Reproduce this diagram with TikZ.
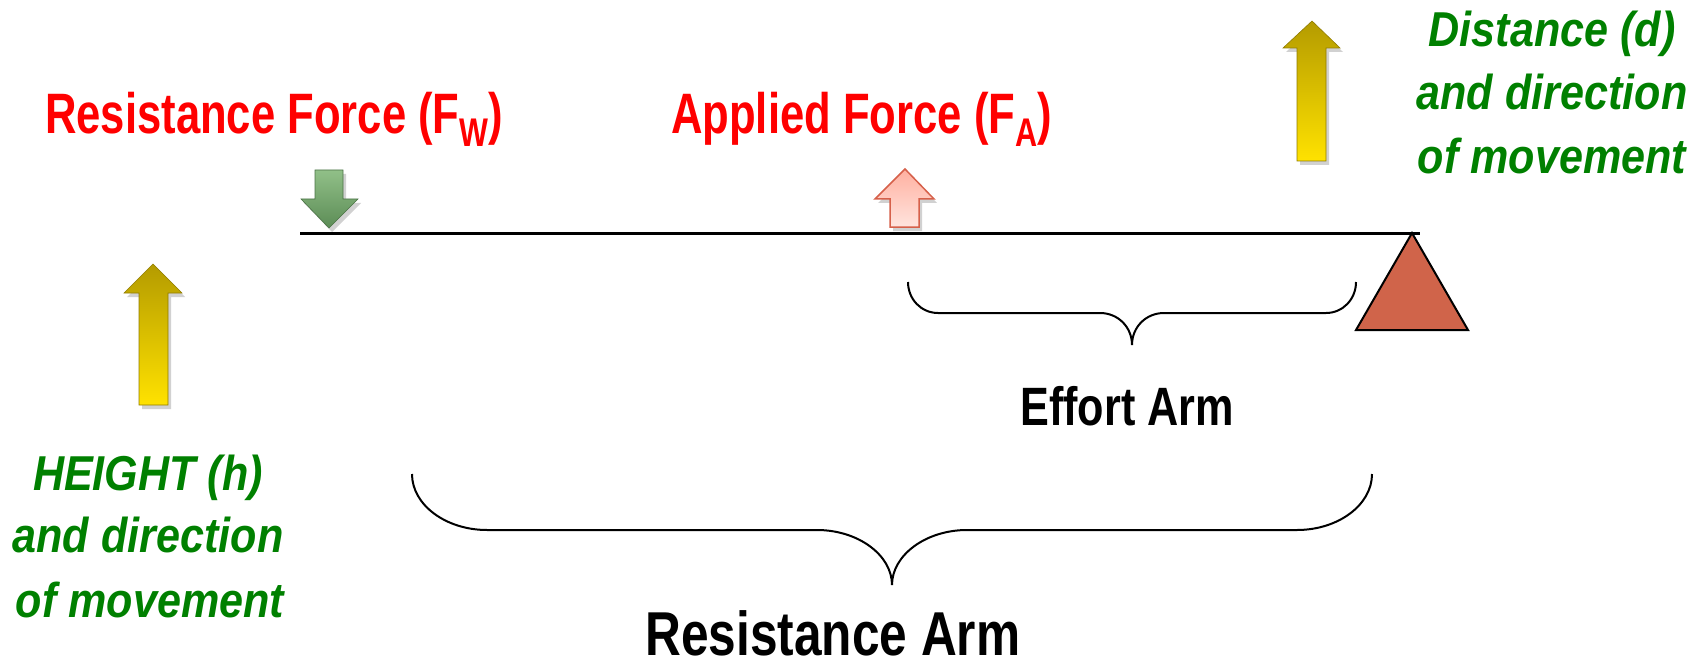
\documentclass[tikz,border=0pt]{standalone}
\usepackage{fontspec}
\setmainfont{Liberation Sans}
\newfontfamily\redfont[FakeStretch=0.765]{Liberation Sans}
\newfontfamily\blkfont[FakeStretch=0.8]{Liberation Sans}
\newfontfamily\grnfont[FakeStretch=0.88]{Liberation Sans}
\definecolor{forcered}{RGB}{255,0,0}
\definecolor{movegreen}{RGB}{0,128,0}
\definecolor{fulcrum}{RGB}{208,100,74}
\definecolor{yeltop}{RGB}{180,155,0}
\definecolor{yelbot}{RGB}{255,226,0}
\definecolor{grntop}{RGB}{145,192,136}
\definecolor{grnbot}{RGB}{92,140,86}
\definecolor{grnedge}{RGB}{75,115,70}
\definecolor{pinktop}{RGB}{255,176,160}
\definecolor{pinkbot}{RGB}{255,228,222}
\definecolor{pinkedge}{RGB}{214,96,74}
\tikzset{
  redlabel/.style={inner sep=0pt, text=forcered, font={\redfont\bfseries\fontsize{57}{60}\selectfont}},
  blklabel/.style={inner sep=0pt, text=black, font={\blkfont\bfseries\fontsize{54}{58}\selectfont}},
  bigblklabel/.style={inner sep=0pt, text=black, font={\blkfont\bfseries\fontsize{62}{66}\selectfont}},
  grnlabel/.style={inner sep=0pt, text=movegreen, font={\grnfont\bfseries\itshape\fontsize{49}{53}\selectfont}},
  bracepath/.style={draw=black, line width=2pt},
  shadowpath/.style={fill=black, opacity=0.18},
  yelarrow/.style={top color=yeltop, bottom color=yelbot, draw=yeltop!80!black, line width=0.6pt},
}
\newcommand{\subW}[1]{\raisebox{-13pt}{\fontsize{40}{40}\selectfont #1}}
\begin{document}
\begin{tikzpicture}[x=1pt,y=-1pt]
\useasboundingbox (0,0) rectangle (1707,663);
% lever
\coordinate (levL) at (300,233);
\coordinate (levR) at (1420,233);
\draw[line width=3pt] (levL) -- (levR);
% fulcrum
\draw[fill=fulcrum, line width=2pt, line join=miter] (1412,233) -- (1468,330) -- (1356,330) -- cycle;
% green down arrow (resistance force)
\fill[shadowpath] (318,174) -- (346,174) -- (346,203) -- (361,203) -- (332,232) -- (304,203) -- (318,203) -- cycle;
\shade[top color=grntop, bottom color=grnbot, draw=grnedge, line width=0.6pt]
  (315,170) -- (343,170) -- (343,199) -- (358,199) -- (329,228) -- (301,199) -- (315,199) -- cycle;
% pink up arrow (applied force)
\fill[shadowpath] (893,231) -- (893,203) -- (878,203) -- (908,173) -- (937,203) -- (922,203) -- (922,231) -- cycle;
\shade[top color=pinktop, bottom color=pinkbot, draw=pinkedge, line width=1.5pt]
  (890,227) -- (890,199) -- (875,199) -- (905,169) -- (934,199) -- (919,199) -- (919,227) -- cycle;
% yellow up arrow left
\fill[shadowpath] (142,409) -- (142,297) -- (127,297) -- (156,268) -- (185,297) -- (171,297) -- (171,409) -- cycle;
\shade[yelarrow] (139,405) -- (139,293) -- (124,293) -- (153,264) -- (182,293) -- (168,293) -- (168,405) -- cycle;
% yellow up arrow right
\fill[shadowpath] (1300,165) -- (1300,52) -- (1286,52) -- (1315,25) -- (1343,52) -- (1329,52) -- (1329,165) -- cycle;
\shade[yelarrow] (1297,161) -- (1297,48) -- (1283,48) -- (1312,21) -- (1340,48) -- (1326,48) -- (1326,161) -- cycle;
% effort arm brace
\draw[bracepath] (908,282) .. controls (908,299) and (921,313) .. (938,313) -- (1100,313)
  .. controls (1118,313) and (1132,327) .. (1132,345)
  .. controls (1132,327) and (1146,313) .. (1164,313) -- (1326,313)
  .. controls (1343,313) and (1356,299) .. (1356,282);
% resistance arm brace
\draw[bracepath] (412,474) .. controls (412,505) and (446,530) .. (487,530) -- (817,530)
  .. controls (858,530) and (892,555) .. (892,585)
  .. controls (892,555) and (926,530) .. (967,530) -- (1297,530)
  .. controls (1338,530) and (1372,505) .. (1372,474);
% labels
\node[redlabel, anchor=base west] (resforce) at (45,134) {Resistance Force (F\subW{W})};
\node[redlabel, anchor=base west] (appforce) at (671,134) {Applied Force (F\subW{A})};
\node[blklabel, anchor=base] (effort) at (1127,425) {Effort Arm};
\node[bigblklabel, anchor=base] (resarm) at (833,655) {Resistance Arm};
\node[grnlabel, anchor=base] (dist1) at (1552,47) {Distance (d)};
\node[grnlabel, anchor=base] (dist2) at (1552,110) {and direction};
\node[grnlabel, anchor=base] (dist3) at (1552,174) {of movement};
\node[grnlabel, anchor=base] (hgt1) at (148,490) {HEIGHT (h)};
\node[grnlabel, anchor=base] (hgt2) at (148,552) {and direction};
\node[grnlabel, anchor=base] (hgt3) at (150,617) {of movement};
\end{tikzpicture}
\end{document}
